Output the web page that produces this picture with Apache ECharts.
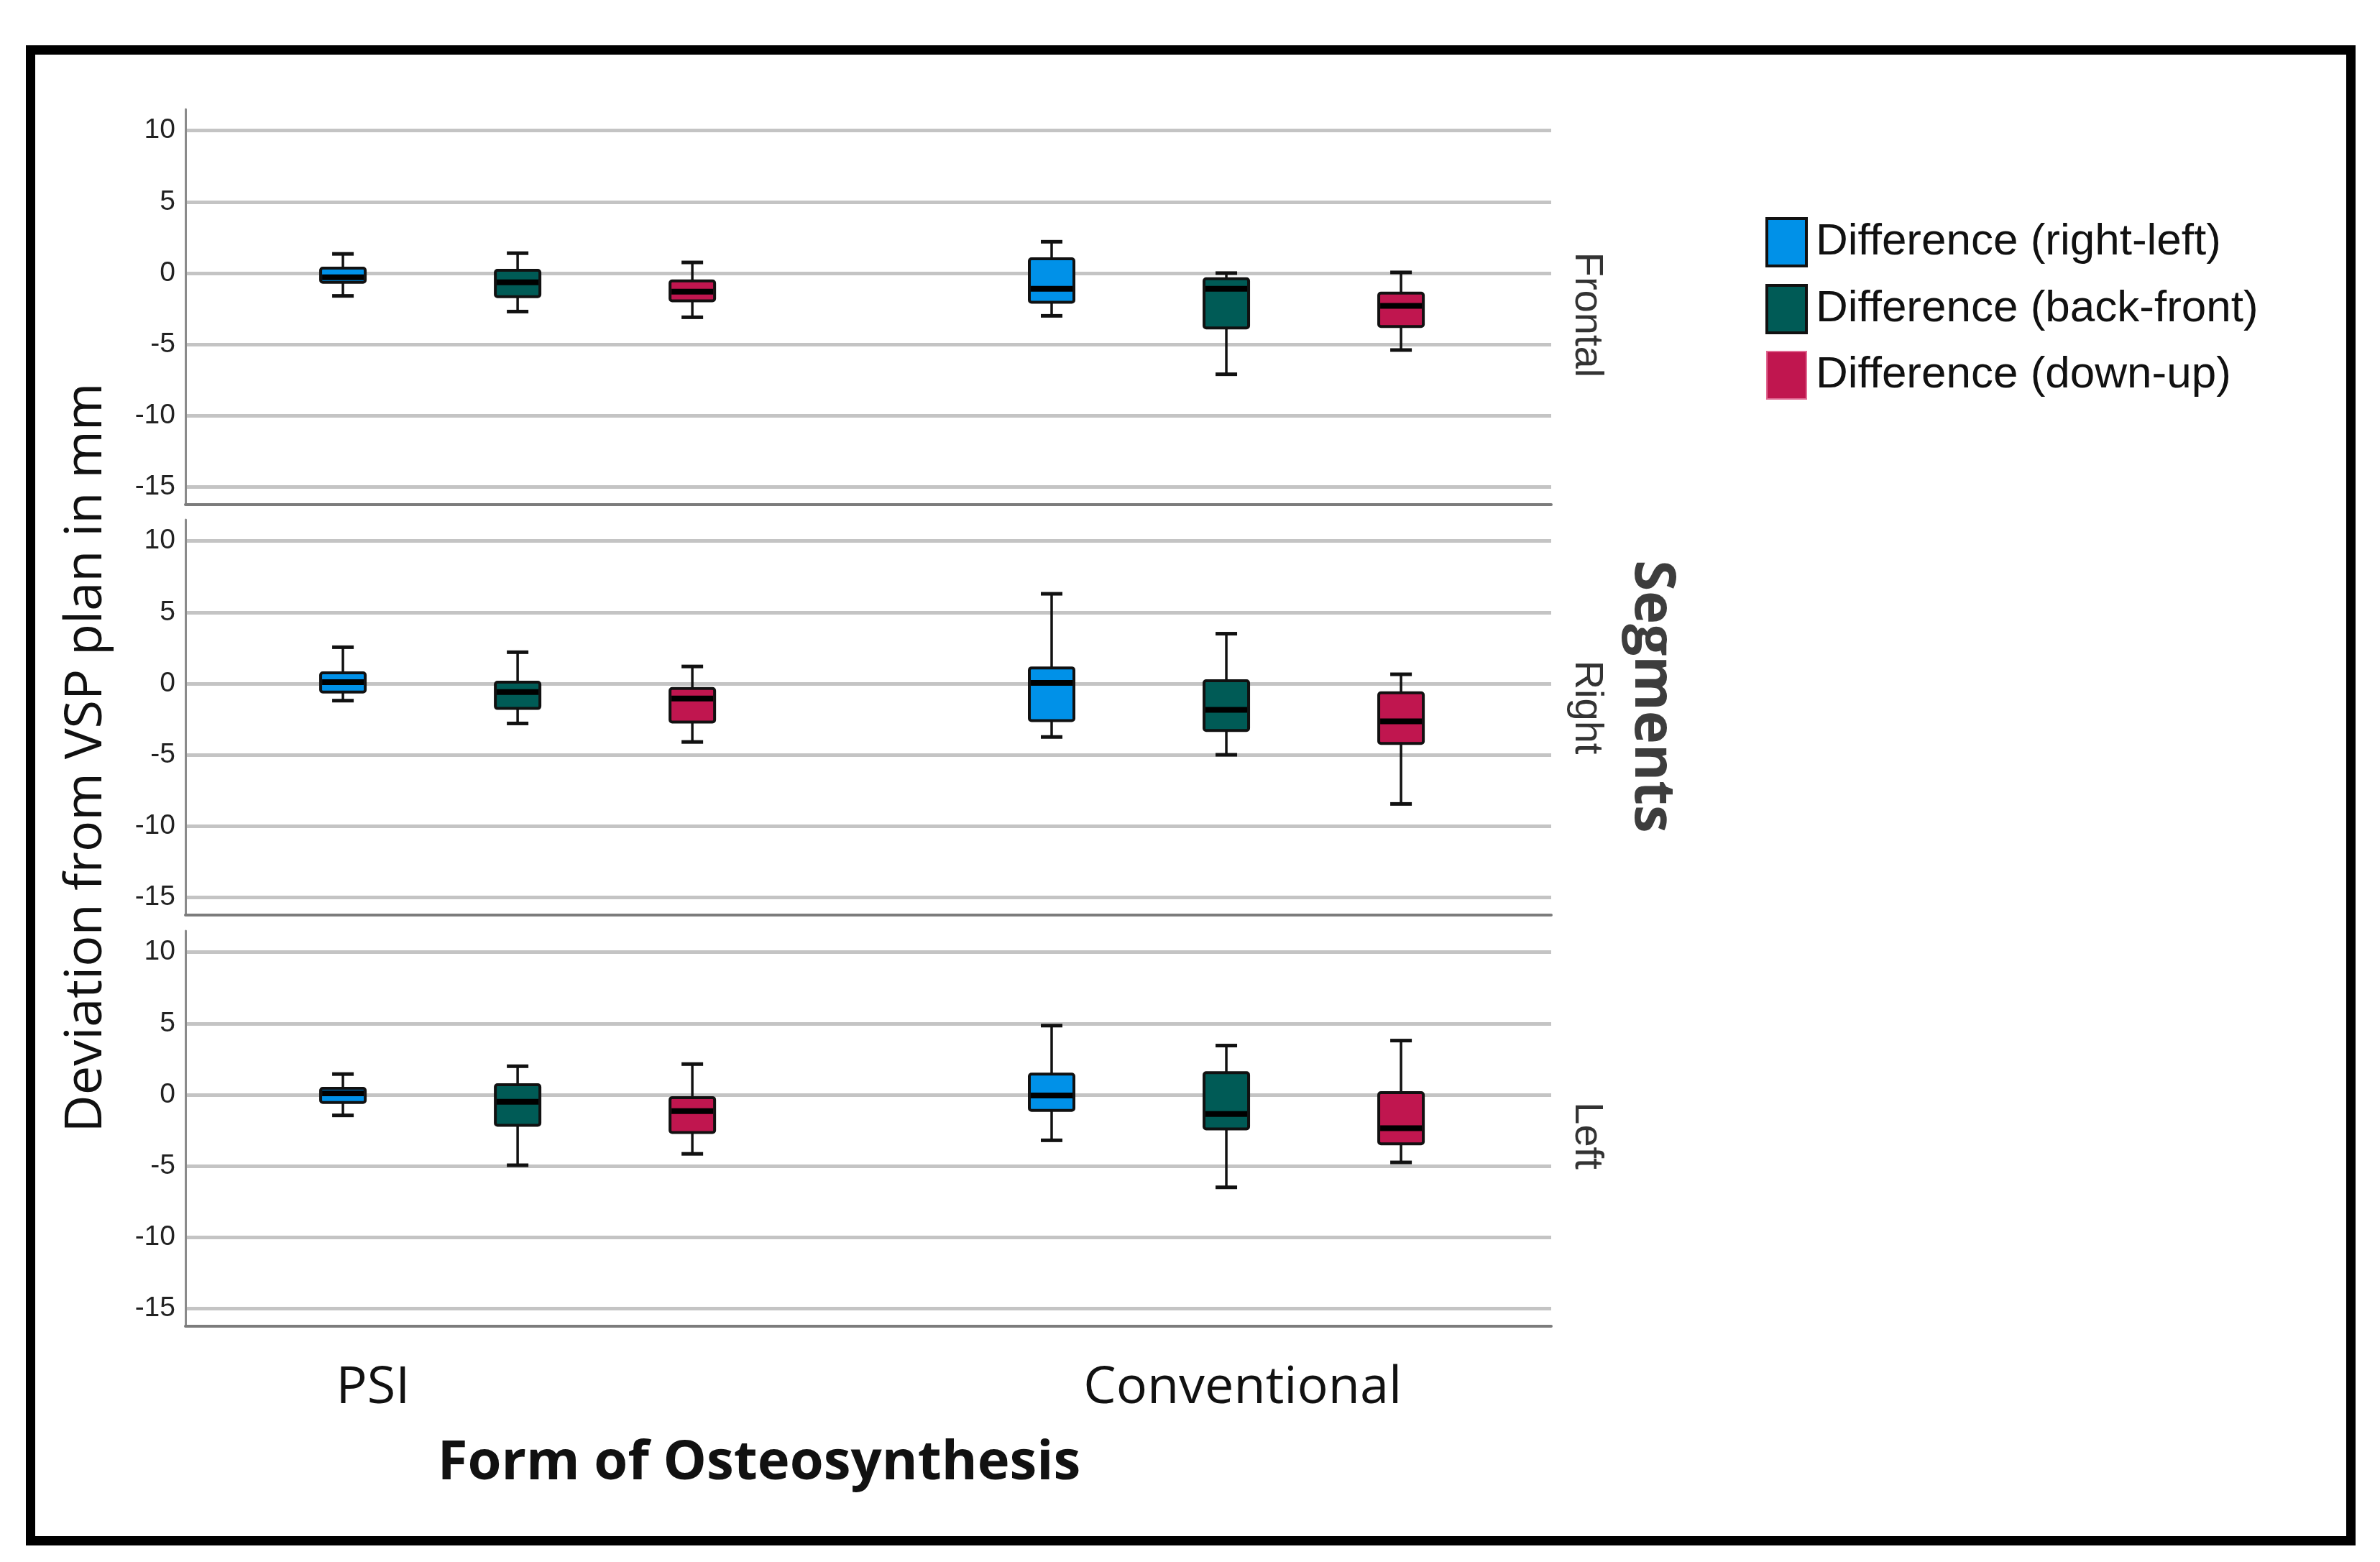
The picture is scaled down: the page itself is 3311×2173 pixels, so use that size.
<!DOCTYPE html>
<html>
<head>
<meta charset="utf-8">
<script src="https://cdn.jsdelivr.net/npm/echarts@6/dist/echarts.min.js"></script>
<style>
  html, body { margin: 0; padding: 0; background: #ffffff; }
  #chart { width: 3311px; height: 2173px; }
</style>
</head>
<body>
<div id="chart"></div>
<script>
// ---------------- data ----------------
const categories = ['PSI', 'Conventional'];
const segments = ['Frontal', 'Right', 'Left'];
const seriesNames = ['Difference (right-left)', 'Difference (back-front)', 'Difference (down-up)'];
const seriesColors = ['#0091e8', '#005b56', '#c0164f'];
const yTicks = [-15, -10, -5, 0, 5, 10];

// each entry: [min, Q1, median, Q3, max] for PSI, Conventional
const frontalRightLeft = [[-1.6, -0.65, -0.3, 0.35, 1.35], [-3.0, -2.05, -1.1, 1.0, 2.2]];
const frontalBackFront = [[-2.7, -1.65, -0.65, 0.2, 1.4], [-7.1, -3.85, -1.1, -0.4, 0.0]];
const frontalDownUp    = [[-3.1, -1.95, -1.3, -0.55, 0.75], [-5.4, -3.75, -2.3, -1.4, 0.05]];

const rightRightLeft = [[-1.2, -0.6, 0.1, 0.75, 2.55], [-3.75, -2.6, 0.05, 1.1, 6.3]];
const rightBackFront = [[-2.8, -1.75, -0.6, 0.1, 2.2], [-5.0, -3.3, -1.85, 0.2, 3.5]];
const rightDownUp    = [[-4.1, -2.7, -1.05, -0.35, 1.2], [-8.45, -4.2, -2.65, -0.65, 0.65]];

const leftRightLeft = [[-1.45, -0.55, 0.1, 0.45, 1.45], [-3.2, -1.1, -0.05, 1.45, 4.85]];
const leftBackFront = [[-4.95, -2.15, -0.5, 0.7, 2.0], [-6.5, -2.4, -1.35, 1.55, 3.45]];
const leftDownUp    = [[-4.15, -2.65, -1.15, -0.2, 2.15], [-4.75, -3.45, -2.35, 0.15, 3.8]];

const panelData = [
  [frontalRightLeft, frontalBackFront, frontalDownUp],
  [rightRightLeft, rightBackFront, rightDownUp],
  [leftRightLeft, leftBackFront, leftDownUp]
];

// ---------------- layout / style ----------------
const GRID_LEFT = 258, GRID_WIDTH = 1900, GRID_HEIGHT = 550;
const GRID_TOPS = [152, 723, 1295];
const X_MIN = -0.4687, X_MAX = 1.4584;       // category index range shown
const X_LABEL_POS = [-0.204, 1.023];          // where the category labels sit
const BOX_STEP = 0.2465;                      // offset between boxes, fraction of one category
const BOX_HALF = 31, CAP_HALF = 15;

function makeRender(order) {
  return function (params, api) {
    const cat = api.value(0);
    const lo = api.value(1), q1 = api.value(2), med = api.value(3), q3 = api.value(4), hi = api.value(5);
    const band = api.size([1, 0])[0];
    const cx = api.coord([cat, 0])[0] + (order - 1) * band * BOX_STEP;
    const y = v => api.coord([cat, v])[1];
    const color = seriesColors[order];
    const lineStyle = { stroke: '#111111', lineWidth: 3.5 };
    return {
      type: 'group',
      children: [
        { type: 'line', shape: { x1: cx, y1: y(hi), x2: cx, y2: y(q3) }, style: lineStyle },
        { type: 'line', shape: { x1: cx, y1: y(q1), x2: cx, y2: y(lo) }, style: lineStyle },
        { type: 'line', shape: { x1: cx - CAP_HALF, y1: y(hi), x2: cx + CAP_HALF, y2: y(hi) }, style: { stroke: '#111111', lineWidth: 5 } },
        { type: 'line', shape: { x1: cx - CAP_HALF, y1: y(lo), x2: cx + CAP_HALF, y2: y(lo) }, style: { stroke: '#111111', lineWidth: 5 } },
        { type: 'rect', shape: { x: cx - BOX_HALF, y: y(q3), width: BOX_HALF * 2, height: y(q1) - y(q3), r: 3 },
          style: { fill: color, stroke: '#111111', lineWidth: 4 } },
        { type: 'line', shape: { x1: cx - BOX_HALF + 2, y1: y(med), x2: cx + BOX_HALF - 2, y2: y(med) }, style: { stroke: '#000000', lineWidth: 8 } }
      ]
    };
  };
}

const grids = [], xAxes = [], yAxes = [], series = [];
GRID_TOPS.forEach((top, p) => {
  grids.push({ left: GRID_LEFT, top: top, width: GRID_WIDTH, height: GRID_HEIGHT, containLabel: false });
  const isBottom = p === GRID_TOPS.length - 1;
  xAxes.push({
    type: 'value', gridIndex: p, min: X_MIN, max: X_MAX,
    axisLine: { show: true, onZero: false, lineStyle: { color: '#7c7c7c', width: 4 } },
    axisTick: { show: false, customValues: X_LABEL_POS },
    splitLine: { show: false },
    axisLabel: {
      show: isBottom, customValues: X_LABEL_POS, margin: 50,
      formatter: v => (v < 0.5 ? categories[0] : categories[1]),
      fontFamily: 'Open Sans', fontSize: 72, color: '#111111'
    }
  });
  yAxes.push({
    type: 'value', gridIndex: p, min: -16.25, max: 11.5,
    axisLine: { show: true, onZero: false, lineStyle: { color: '#8a8a8a', width: 3 } },
    axisTick: { show: false, customValues: yTicks },
    axisLabel: { customValues: yTicks, margin: 14, fontFamily: 'Liberation Sans', fontSize: 39, color: '#222222' },
    splitLine: { show: true, lineStyle: { color: '#c4c4c4', width: 5 } }
  });
  panelData[p].forEach((stats, d) => {
    series.push({
      type: 'custom',
      name: seriesNames[d],
      xAxisIndex: p, yAxisIndex: p,
      renderItem: makeRender(d),
      encode: { x: 0, y: [1, 2, 3, 4, 5] },
      itemStyle: { color: seriesColors[d] },
      data: stats.map((s, i) => [i].concat(s))
    });
  });
});

const chart = echarts.init(document.getElementById('chart'), null, { renderer: 'canvas' });
chart.setOption({
  backgroundColor: '#ffffff',
  animation: false,
  grid: grids,
  xAxis: xAxes,
  yAxis: yAxes,
  legend: {
    orient: 'vertical', left: 2456, top: 302, padding: 0,
    itemWidth: 55, itemHeight: 66, itemGap: 23, icon: 'rect',
    textStyle: { fontFamily: 'Liberation Sans', fontSize: 62, color: '#111111', padding: [0, 0, 0, 8] },
    data: seriesNames.map((n, i) => ({
      name: n,
      itemStyle: { color: seriesColors[i], borderColor: i < 2 ? '#111111' : '#e06a93', borderWidth: i < 2 ? 4 : 2 }
    }))
  },
  graphic: [
    { type: 'rect', silent: true, shape: { x: 42.5, y: 69.5, width: 3228, height: 2074 },
      style: { fill: 'none', stroke: '#000000', lineWidth: 13 } },
    { type: 'text', x: 120, y: 1054, rotation: Math.PI / 2,
      style: { text: 'Deviation from VSP plan in mm', fontFamily: 'Open Sans', fontSize: 72, fill: '#111111', textAlign: 'center', textVerticalAlign: 'middle' } },
    { type: 'text', x: 1056, y: 2036,
      style: { text: 'Form of Osteosynthesis', fontFamily: 'Open Sans', fontWeight: 'bold', fontSize: 76, fill: '#111111', textAlign: 'center', textVerticalAlign: 'middle' } },
    { type: 'text', x: 2297, y: 969, rotation: -Math.PI / 2,
      style: { text: 'Segments', fontFamily: 'Open Sans', fontWeight: 'bold', fontSize: 78, fill: '#3d3d3d', textAlign: 'center', textVerticalAlign: 'middle' } }
  ].concat(segments.map((s, i) => ({
    type: 'text', x: 2207, y: [438, 984, 1580][i], rotation: -Math.PI / 2,
    style: { text: s, fontFamily: 'Liberation Sans', fontSize: 56, fill: '#333333', textAlign: 'center', textVerticalAlign: 'middle' }
  }))),
  series: series
});
</script>
</body>
</html>
